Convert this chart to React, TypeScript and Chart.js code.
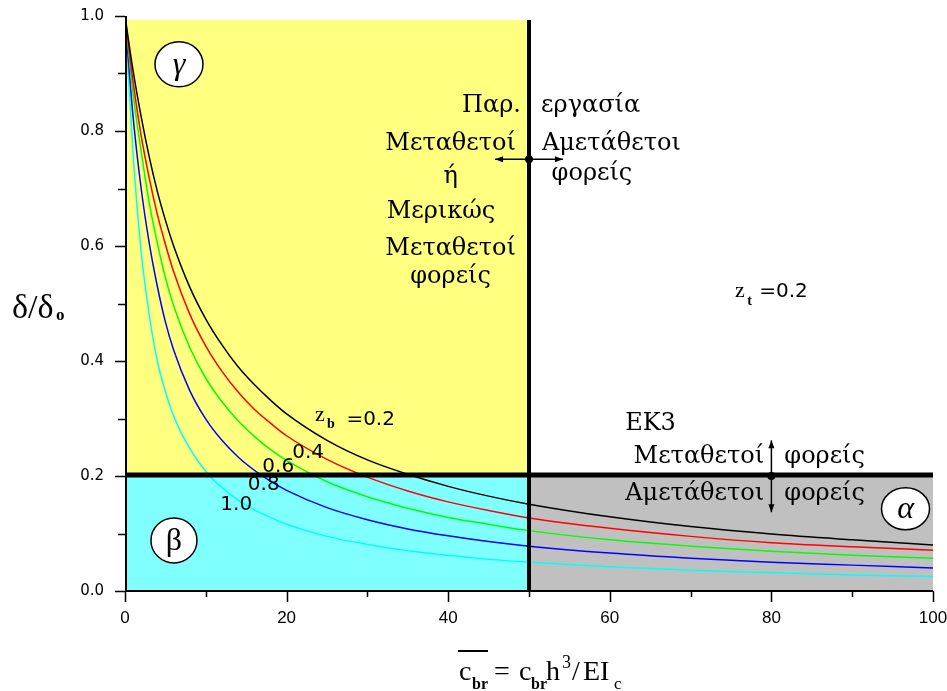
import React, { useEffect, useRef } from 'react';
import { Chart, registerables } from 'chart.js';

Chart.register(...registerables);

// ---- data ----
const X_VALUES = [0, 1, 2, 3, 4, 5, 6, 8, 10, 12, 14, 16, 18, 20, 25, 30, 35, 40, 45, 50, 60, 70, 80, 90, 100];
const ZB_LABELS = ['0.2', '0.4', '0.6', '0.8', '1.0'];
const Y_ZB_02 = [1, 0.905, 0.825, 0.755, 0.695, 0.645, 0.601, 0.529, 0.473, 0.428, 0.390, 0.359, 0.332, 0.308, 0.262, 0.228, 0.203, 0.182, 0.165, 0.151, 0.129, 0.112, 0.099, 0.089, 0.080];
const Y_ZB_04 = [1, 0.885, 0.792, 0.718, 0.655, 0.603, 0.556, 0.482, 0.426, 0.382, 0.346, 0.316, 0.292, 0.270, 0.229, 0.198, 0.174, 0.155, 0.140, 0.127, 0.109, 0.095, 0.084, 0.077, 0.071];
const Y_ZB_06 = [1, 0.865, 0.765, 0.675, 0.605, 0.545, 0.497, 0.424, 0.370, 0.329, 0.296, 0.269, 0.246, 0.227, 0.190, 0.164, 0.144, 0.128, 0.116, 0.105, 0.089, 0.078, 0.069, 0.062, 0.057];
const Y_ZB_08 = [1, 0.825, 0.700, 0.605, 0.530, 0.468, 0.420, 0.349, 0.299, 0.262, 0.233, 0.210, 0.191, 0.175, 0.145, 0.124, 0.108, 0.096, 0.086, 0.078, 0.066, 0.057, 0.050, 0.045, 0.040];
const Y_ZB_10 = [1, 0.760, 0.590, 0.480, 0.400, 0.347, 0.305, 0.248, 0.208, 0.180, 0.158, 0.141, 0.128, 0.116, 0.095, 0.081, 0.070, 0.062, 0.055, 0.050, 0.042, 0.036, 0.032, 0.028, 0.025];
const SERIES_COLORS = ['#000000', '#ff0000', '#00ff00', '#0000ff', '#00ffff'];
const X_TICK_STEP = 20;
const Y_TICK_STEP = 0.2;
const X_SPLIT = 50;
const Y_SPLIT = 0.2;
const REGION_TOP = 0.993;

const SERIF = '"Liberation Serif", serif';
const GREEK = '"DejaVu Serif", serif';
const SANS = '"DejaVu Sans", sans-serif';

const regionsPlugin = {
  id: 'regions',
  beforeDatasetsDraw(chart: any) {
    const { ctx } = chart;
    const xs = chart.scales.x, ys = chart.scales.y;
    const rect = (x0: number, x1: number, y0: number, y1: number, c: string) => {
      const a = xs.getPixelForValue(x0), b = xs.getPixelForValue(x1);
      const t = ys.getPixelForValue(y1), u = ys.getPixelForValue(y0);
      ctx.fillStyle = c;
      ctx.fillRect(a, t, b - a, u - t);
    };
    ctx.save();
    rect(0, X_SPLIT, Y_SPLIT, REGION_TOP, '#ffff80');
    rect(0, X_SPLIT, 0, Y_SPLIT, '#80ffff');
    rect(X_SPLIT, 100, 0, Y_SPLIT, '#c0c0c0');
    ctx.restore();
  },
};

const overlayPlugin = {
  id: 'overlay',
  afterDatasetsDraw(chart: any) {
    const { ctx, chartArea: ca } = chart;
    const xs = chart.scales.x, ys = chart.scales.y;
    const X = (v: number) => xs.getPixelForValue(v);
    const Y = (v: number) => ys.getPixelForValue(v);
    ctx.save();

    // thick divider lines
    ctx.strokeStyle = '#000';
    ctx.lineWidth = 5;
    ctx.beginPath();
    ctx.moveTo(ca.left, Y(Y_SPLIT) - 1);
    ctx.lineTo(ca.right, Y(Y_SPLIT) - 1);
    ctx.stroke();
    ctx.lineWidth = 4;
    ctx.beginPath();
    ctx.moveTo(X(X_SPLIT), Y(REGION_TOP));
    ctx.lineTo(X(X_SPLIT), ca.bottom);
    ctx.stroke();

    // axis lines
    ctx.lineWidth = 2;
    ctx.beginPath();
    ctx.moveTo(ca.left + 1, ca.top);
    ctx.lineTo(ca.left + 1, ca.bottom);
    ctx.moveTo(ca.left, ca.bottom);
    ctx.lineTo(ca.right, ca.bottom);
    ctx.stroke();

    // tick marks (major + minor)
    ctx.lineWidth = 1.5;
    ctx.beginPath();
    for (let i = 0; i <= 10; i++) {
      const v = i * 10;
      const len = v % X_TICK_STEP === 0 ? 11 : 6;
      const p = Math.round(X(v)) + 0.5;
      ctx.moveTo(p, ca.bottom);
      ctx.lineTo(p, ca.bottom + len);
    }
    for (let i = 0; i <= 10; i++) {
      const v = i / 10;
      const len = i % 2 === 0 ? 10 : 7;
      const p = Math.round(Y(v)) + 0.5;
      ctx.moveTo(ca.left - len, p);
      ctx.lineTo(ca.left, p);
    }
    ctx.stroke();

    const text = (s: string, xv: number, yv: number, font: string, align: CanvasTextAlign = 'left') => {
      ctx.font = font;
      ctx.textAlign = align;
      ctx.textBaseline = 'alphabetic';
      ctx.fillStyle = '#000';
      ctx.fillText(s, X(xv), Y(yv));
    };

    // region annotations (top-left block)
    const gf = '24px ' + GREEK;
    text('Παρ.', 49.0, 0.833, gf, 'right');
    text('εργασία', 51.5, 0.833, gf, 'left');
    text('Μεταθετοί', 40.3, 0.767, gf, 'center');
    text('Αμετάθετοι', 51.6, 0.767, gf, 'left');
    text('ή', 40.3, 0.710, gf, 'center');
    text('φορείς', 52.8, 0.715, gf, 'left');
    text('Μερικώς', 39.1, 0.648, gf, 'center');
    text('Μεταθετοί', 40.3, 0.584, gf, 'center');
    text('φορείς', 40.3, 0.535, gf, 'center');

    // EK3 block
    text('ΕΚ3', 61.9, 0.280, gf, 'left');
    text('Μεταθετοί', 79.1, 0.223, gf, 'right');
    text('φορείς', 81.6, 0.223, gf, 'left');
    text('Αμετάθετοι', 79.1, 0.158, gf, 'right');
    text('φορείς', 81.6, 0.158, gf, 'left');

    // arrows
    const arrow = (x0: number, y0: number, x1: number, y1: number) => {
      const a = X(x0), b = Y(y0), c = X(x1), d = Y(y1);
      ctx.strokeStyle = '#000';
      ctx.lineWidth = 1.5;
      ctx.beginPath();
      ctx.moveTo(a, b);
      ctx.lineTo(c, d);
      ctx.stroke();
      const ang = Math.atan2(d - b, c - a);
      ctx.beginPath();
      ctx.moveTo(c, d);
      ctx.lineTo(c - 8 * Math.cos(ang) + 3 * Math.sin(ang), d - 8 * Math.sin(ang) - 3 * Math.cos(ang));
      ctx.lineTo(c - 8 * Math.cos(ang) - 3 * Math.sin(ang), d - 8 * Math.sin(ang) + 3 * Math.cos(ang));
      ctx.closePath();
      ctx.fillStyle = '#000';
      ctx.fill();
    };
    const dot = (xv: number, yv: number) => {
      ctx.beginPath();
      ctx.arc(X(xv), Y(yv), 4, 0, Math.PI * 2);
      ctx.fillStyle = '#000';
      ctx.fill();
    };
    arrow(X_SPLIT, 0.751, 45.8, 0.751);
    arrow(X_SPLIT, 0.751, 54.2, 0.751);
    dot(X_SPLIT, 0.751);
    arrow(80, Y_SPLIT, 80, 0.262);
    arrow(80, Y_SPLIT, 80, 0.137);
    dot(80, Y_SPLIT);

    // z_t label
    const zf = '22px ' + SERIF;
    const nf = '20px ' + SANS;
    const sub = 'bold 14px ' + SERIF;
    text('z', 75.5, 0.511, zf);
    text('t', 77.0, 0.497, sub);
    text('=0.2', 78.5, 0.511, nf);

    // z_b and curve labels
    text('z', 23.5, 0.296, zf);
    text('b', 25.0, 0.284, sub);
    text('=0.2', 27.4, 0.289, nf);
    text(ZB_LABELS[1], 20.7, 0.231, nf);
    text(ZB_LABELS[2], 17.0, 0.2075, nf);
    text(ZB_LABELS[3], 15.2, 0.176, nf);
    text(ZB_LABELS[4], 11.8, 0.141, nf);

    // circled region letters
    const circ = (xv: number, yv: number, rx: number, ry: number, s: string, italic: boolean) => {
      const cx = X(xv), cy = Y(yv);
      ctx.beginPath();
      ctx.ellipse(cx, cy, rx, ry, 0, 0, Math.PI * 2);
      ctx.fillStyle = '#fff';
      ctx.fill();
      ctx.strokeStyle = '#000';
      ctx.lineWidth = 1.5;
      ctx.stroke();
      ctx.font = (italic ? 'italic ' : '') + '32px ' + SERIF;
      ctx.textAlign = 'center';
      ctx.textBaseline = 'middle';
      ctx.fillStyle = '#000';
      ctx.fillText(s, cx, cy + 1);
    };
    circ(6.68, 0.916, 24, 22.5, 'γ', true);
    circ(6.06, 0.088, 23, 22.5, 'β', false);
    circ(96.6, 0.143, 24, 21, 'α', true);

    // y-axis title
    ctx.textAlign = 'left';
    ctx.textBaseline = 'alphabetic';
    ctx.font = '34px ' + SERIF;
    ctx.fillText('δ/δ', 12, 318);
    ctx.font = 'bold 17px ' + SERIF;
    ctx.fillText('o', 56, 320);

    // x-axis title
    const big = '28px ' + SERIF;
    const bsub = 'bold 16px ' + SERIF;
    const put = (s: string, px: number, py: number, f: string) => {
      ctx.font = f;
      ctx.fillText(s, px, py);
    };
    put('c', 459, 680, big);
    ctx.lineWidth = 2;
    ctx.beginPath();
    ctx.moveTo(458, 651);
    ctx.lineTo(488, 651);
    ctx.stroke();
    put('br', 472, 689, bsub);
    put('=', 494, 680, big);
    put('c', 519, 680, big);
    put('br', 531, 689, bsub);
    put('h', 546, 680, big);
    put('3', 562, 668, '18px ' + SERIF);
    put('/', 572, 680, big);
    put('EI', 583, 680, big);
    put('c', 614, 689, '17px ' + SERIF);

    ctx.restore();
  },
};

export default function App() {
  const ref = useRef<HTMLCanvasElement>(null);
  useEffect(() => {
    const canvas = ref.current;
    if (!canvas) return;
    const series = [Y_ZB_02, Y_ZB_04, Y_ZB_06, Y_ZB_08, Y_ZB_10];
    const chart = new Chart(canvas, {
      type: 'line',
      data: {
        datasets: series.map((s, i) => ({
          label: 'zb=' + ZB_LABELS[i],
          data: X_VALUES.map((xv, j) => ({ x: xv, y: s[j] })),
          borderColor: SERIES_COLORS[i],
          borderWidth: 1.5,
          pointRadius: 0,
          cubicInterpolationMode: 'monotone' as const,
          fill: false,
        })),
      },
      options: {
        responsive: false,
        animation: false,
        devicePixelRatio: 1,
        layout: { padding: { top: 16, right: 14, left: 0, bottom: 0 } },
        plugins: {
          legend: { display: false },
          tooltip: { enabled: false },
          title: { display: false },
        },
        scales: {
          x: {
            type: 'linear',
            min: 0,
            max: 100,
            grid: { display: false, drawTicks: false },
            border: { display: false },
            ticks: {
              stepSize: X_TICK_STEP,
              padding: 17,
              autoSkip: false,
              maxRotation: 0,
              color: '#000',
              font: { family: '"Liberation Sans", sans-serif', size: 17 },
            },
            afterFit: (s: any) => {
              s.height = 100;
              s.paddingLeft = 0;
              s.paddingRight = 0;
            },
          },
          y: {
            type: 'linear',
            min: 0,
            max: 1,
            grid: { display: false, drawTicks: false },
            border: { display: false },
            ticks: {
              stepSize: Y_TICK_STEP,
              padding: 21,
              color: '#000',
              font: { family: SANS, size: 15 },
              callback: (v: any) => Number(v).toFixed(1),
            },
            afterFit: (s: any) => {
              s.width = 125;
              s.paddingTop = 0;
              s.paddingBottom = 0;
            },
          },
        },
      },
      plugins: [regionsPlugin, overlayPlugin],
    } as any);
    return () => chart.destroy();
  }, []);
  return (
    <div style={{ position: 'absolute', left: 0, top: 0, width: 947, height: 691, background: '#fff' }}>
      <canvas ref={ref} width={947} height={691} style={{ display: 'block', width: 947, height: 691 }} />
    </div>
  );
}
